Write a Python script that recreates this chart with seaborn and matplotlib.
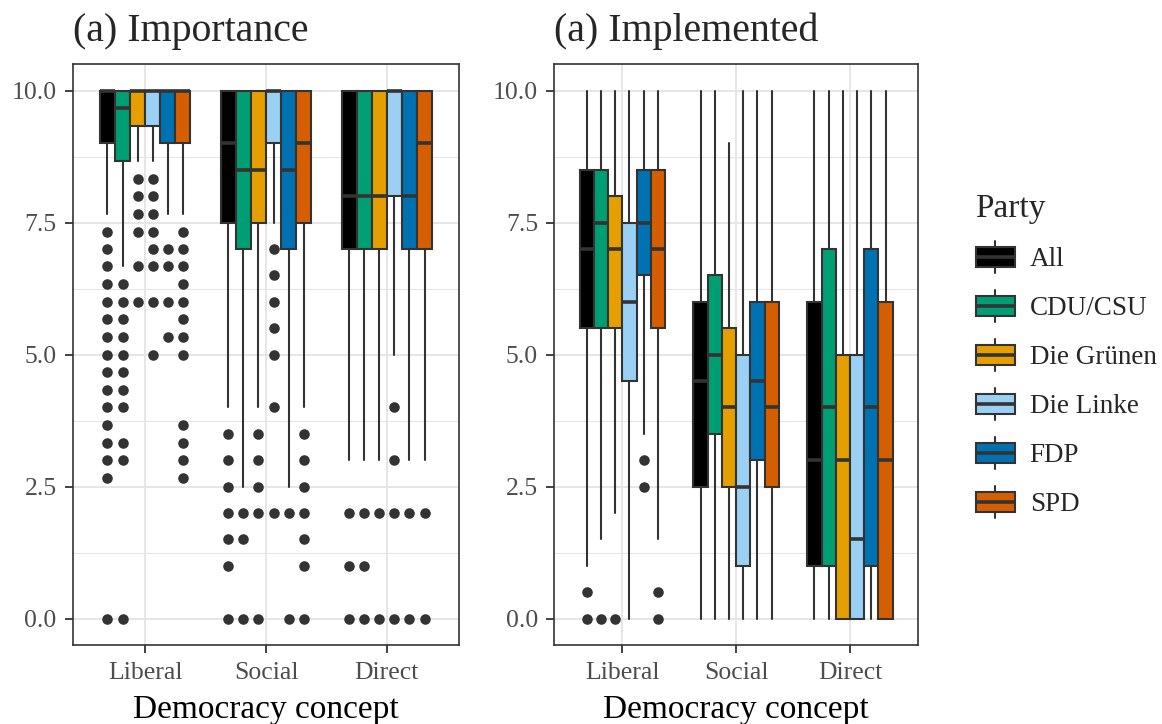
import numpy as np
import matplotlib
matplotlib.use("Agg")
import matplotlib.pyplot as plt
import seaborn as sns
from matplotlib.patches import Rectangle, Patch
from matplotlib.lines import Line2D
from matplotlib.legend_handler import HandlerBase

# ---- data -----------------------------------------------------------------
parties = ["All", "CDU/CSU", "Die Grünen", "Die Linke", "FDP", "SPD"]
concepts = ["Liberal", "Social", "Direct"]
party_colors = ["#000000", "#009E73", "#E69F00", "#9BD0F5", "#0072B2", "#D55E00"]
y_ticks = [0.0, 2.5, 5.0, 7.5, 10.0]
y_ticklabels = ["0.0", "2.5", "5.0", "7.5", "10.0"]

# Importance: rows = concepts, columns = parties
imp_q1 = [[9.0, 8.67, 9.33, 9.33, 9.0, 9.0],
          [7.5, 7.0, 7.5, 9.0, 7.0, 7.5],
          [7.0, 7.0, 7.0, 8.0, 7.0, 7.0]]
imp_med = [[10.0, 9.67, 10.0, 10.0, 10.0, 10.0],
           [9.0, 8.5, 8.5, 10.0, 8.5, 9.0],
           [8.0, 8.0, 8.0, 10.0, 8.0, 9.0]]
imp_q3 = [[10.0] * 6, [10.0] * 6, [10.0] * 6]
imp_lo = [[7.67, 6.67, 8.67, 8.67, 7.67, 7.67],
          [4.0, 2.5, 4.0, 7.5, 2.5, 4.0],
          [3.0, 3.0, 3.0, 5.0, 3.0, 3.0]]
imp_hi = [[10.0] * 6, [10.0] * 6, [10.0] * 6]
imp_out = [
    [[7.33, 7.0, 6.67, 6.33, 6.0, 5.67, 5.33, 5.0, 4.67, 4.33, 4.0, 3.67, 3.33, 3.0, 2.67, 0.0],
     [6.33, 6.0, 5.67, 5.33, 5.0, 4.67, 4.33, 4.0, 3.33, 3.0, 0.0],
     [8.33, 8.0, 7.67, 7.33, 6.67, 6.0],
     [8.33, 8.0, 7.67, 7.33, 7.0, 6.67, 6.0, 5.0],
     [7.0, 6.67, 6.0, 5.33],
     [7.33, 7.0, 6.67, 6.33, 6.0, 5.67, 5.33, 5.0, 3.67, 3.33, 3.0, 2.67]],
    [[3.5, 3.0, 2.5, 2.0, 1.5, 1.0, 0.0],
     [2.0, 1.5, 0.0],
     [3.5, 3.0, 2.5, 2.0, 0.0],
     [7.0, 6.5, 6.0, 5.5, 5.0, 4.0, 2.0],
     [2.0, 0.0],
     [3.5, 3.0, 2.5, 2.0, 1.5, 1.0, 0.0]],
    [[2.0, 1.0, 0.0],
     [2.0, 1.0, 0.0],
     [2.0, 0.0],
     [4.0, 3.0, 2.0, 0.0],
     [2.0, 0.0],
     [2.0, 0.0]],
]

# Implemented: rows = concepts, columns = parties
impl_q1 = [[5.5, 5.5, 5.5, 4.5, 6.5, 5.5],
           [2.5, 3.5, 2.5, 1.0, 3.0, 2.5],
           [1.0, 1.0, 0.0, 0.0, 1.0, 0.0]]
impl_med = [[7.0, 7.5, 7.0, 6.0, 7.5, 7.0],
            [4.5, 5.0, 4.0, 2.5, 4.5, 4.0],
            [3.0, 4.0, 3.0, 1.5, 4.0, 3.0]]
impl_q3 = [[8.5, 8.5, 8.0, 7.5, 8.5, 8.5],
           [6.0, 6.5, 5.5, 5.0, 6.0, 6.0],
           [6.0, 7.0, 5.0, 5.0, 7.0, 6.0]]
impl_lo = [[1.0, 1.5, 2.0, 0.0, 3.5, 1.5],
           [0.0] * 6,
           [0.0] * 6]
impl_hi = [[10.0] * 6,
           [10.0, 10.0, 9.0, 10.0, 10.0, 10.0],
           [10.0] * 6]
impl_out = [
    [[0.5, 0.0], [0.0], [0.0], [], [3.0, 2.5], [0.5, 0.0]],
    [[], [], [], [], [], []],
    [[], [], [], [], [], []],
]

# ---- style ------------------------------------------------------------------
sns.set_theme(style="whitegrid")
plt.rcParams["font.family"] = ["Liberation Serif", "DejaVu Serif"]
palette = sns.color_palette(party_colors)

EDGE = "#333333"
GRID = "#E6E6E6"
LW = 1.5
MED_LW = 2.6

fig = plt.figure(figsize=(11.62, 7.24), dpi=100)
W, H = 1162.0, 724.0


def add_panel(left, right, top=64.3, bottom=645.0):
    return fig.add_axes([left / W, 1 - bottom / H, (right - left) / W, (bottom - top) / H])


def draw_panel(ax, q1, med, q3, lo, hi, out):
    n = len(parties)
    width = 0.75 / n
    offsets = (np.arange(n) - (n - 1) / 2) * width
    for ci in range(len(concepts)):
        for pi in range(n):
            stats = [dict(q1=q1[ci][pi], med=med[ci][pi], q3=q3[ci][pi],
                          whislo=lo[ci][pi], whishi=hi[ci][pi],
                          fliers=np.array(out[ci][pi], dtype=float))]
            ax.bxp(stats, positions=[ci + 1 + offsets[pi]], widths=width,
                   patch_artist=True, showcaps=False, manage_ticks=False,
                   boxprops=dict(facecolor=palette[pi], edgecolor=EDGE, linewidth=LW),
                   medianprops=dict(color=EDGE, linewidth=MED_LW, solid_capstyle="butt"),
                   whiskerprops=dict(color=EDGE, linewidth=LW),
                   flierprops=dict(marker="o", markerfacecolor=EDGE,
                                   markeredgecolor="none", markersize=7.6))

    ax.set_xlim(0.4, len(concepts) + 0.6)
    ax.set_ylim(-0.5, 10.5)
    ax.set_xticks(range(1, len(concepts) + 1))
    ax.set_xticklabels(concepts)
    ax.set_yticks(y_ticks)
    ax.set_yticklabels(y_ticklabels)
    ax.set_yticks([1.25, 3.75, 6.25, 8.75], minor=True)
    ax.set_facecolor("white")
    ax.grid(True, which="major", color=GRID, linewidth=1.4)
    ax.grid(True, which="minor", axis="y", color=GRID, linewidth=0.8)
    ax.set_axisbelow(True)
    for s in ax.spines.values():
        s.set_color(EDGE)
        s.set_linewidth(1.2)
        s.set_visible(True)
    ax.tick_params(axis="both", which="major", length=5.5, width=1.3, color=EDGE,
                   labelcolor="#4D4D4D", labelsize=18.5, bottom=True, left=True)
    ax.tick_params(axis="y", which="major", pad=6)
    ax.tick_params(axis="x", which="major", pad=7)
    ax.tick_params(which="minor", length=0)
    ax.set_xlabel("Democracy concept", fontsize=24, color="black", labelpad=7)
    ax.set_ylabel("")


ax1 = add_panel(72.7, 459.3)
draw_panel(ax1, imp_q1, imp_med, imp_q3, imp_lo, imp_hi, imp_out)
ax2 = add_panel(554.0, 918.3)
draw_panel(ax2, impl_q1, impl_med, impl_q3, impl_lo, impl_hi, impl_out)

fig.text(72.7 / W, 1 - 41 / H, "(a) Importance", fontsize=28.7, ha="left", va="baseline")
fig.text(554.0 / W, 1 - 41 / H, "(a) Implemented", fontsize=28.7, ha="left", va="baseline")


# ---- legend with miniature box keys ----------------------------------------
class BoxKeyHandler(HandlerBase):
    def create_artists(self, legend, orig_handle, xdescent, ydescent,
                       width, height, fontsize, trans):
        x0, y0 = -xdescent, -ydescent
        cx = x0 + width / 2
        bh = height * 0.62
        by = y0 + (height - bh) / 2
        whisk = Line2D([cx, cx], [y0, y0 + height], color=EDGE, lw=LW, transform=trans)
        box = Rectangle((x0, by), width, bh, facecolor=orig_handle.get_facecolor(),
                        edgecolor=EDGE, lw=LW, transform=trans)
        mid = Line2D([x0, x0 + width], [by + bh / 2] * 2, color=EDGE, lw=MED_LW,
                     solid_capstyle="butt", transform=trans)
        return [whisk, box, mid]


handles = [Patch(facecolor=palette[i]) for i in range(len(parties))]
leg = fig.legend(handles, parties, handler_map={Patch: BoxKeyHandler()},
                 loc="upper left", bbox_to_anchor=(962 / W, 1 - 180 / H),
                 frameon=False, title="Party", fontsize=19.5, title_fontsize=24,
                 handlelength=1.45, handleheight=1.45, labelspacing=0.62,
                 handletextpad=0.55, borderpad=0, alignment="left")

fig.savefig("out.png", dpi=100)
